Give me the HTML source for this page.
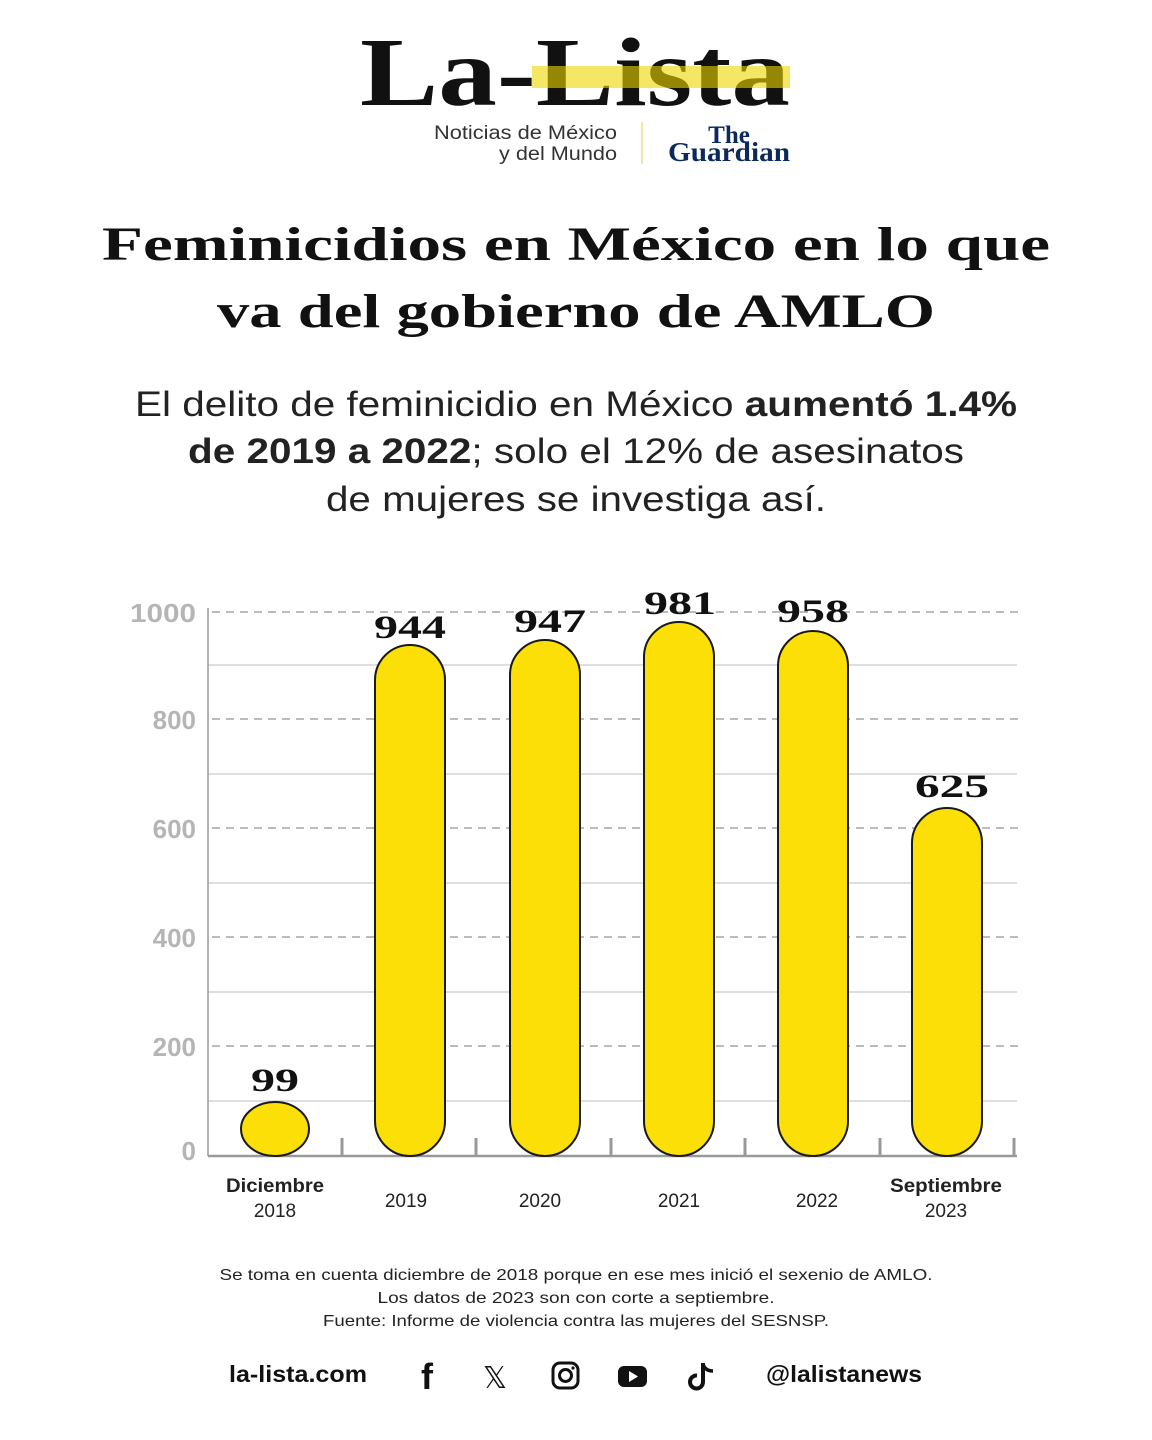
<!DOCTYPE html>
<html><head><meta charset="utf-8"><style>
html,body{margin:0;padding:0;background:#fff;}
svg{display:block;}
</style></head><body>
<svg width="1152" height="1440" viewBox="0 0 1152 1440" xmlns="http://www.w3.org/2000/svg">
<rect width="1152" height="1440" fill="#fff"/>
<!-- Logo -->
<text x="360" y="105" font-family="Liberation Serif,serif" font-weight="bold" font-size="98" fill="#111" textLength="430" lengthAdjust="spacingAndGlyphs">La-Lista</text>
<rect x="532" y="66" width="258" height="22" fill="#efd700" opacity="0.6"/>
<text x="617" y="139" text-anchor="end" font-family="Liberation Sans,sans-serif" font-size="19" fill="#333" textLength="183" lengthAdjust="spacingAndGlyphs">Noticias de México</text>
<text x="617" y="160" text-anchor="end" font-family="Liberation Sans,sans-serif" font-size="19" fill="#333" textLength="118" lengthAdjust="spacingAndGlyphs">y del Mundo</text>
<line x1="642" y1="122" x2="642" y2="164" stroke="#f0e6a0" stroke-width="2"/>
<text x="729" y="143" text-anchor="middle" font-family="Liberation Serif,serif" font-weight="bold" font-size="25" fill="#0b2a5b">The</text>
<text x="729" y="161" text-anchor="middle" font-family="Liberation Serif,serif" font-weight="bold" font-size="27" fill="#0b2a5b" textLength="122" lengthAdjust="spacingAndGlyphs">Guardian</text>
<!-- Title -->
<text x="576" y="260" text-anchor="middle" font-family="Liberation Serif,serif" font-weight="bold" font-size="48" fill="#111" textLength="948" lengthAdjust="spacingAndGlyphs">Feminicidios en México en lo que</text>
<text x="576" y="327" text-anchor="middle" font-family="Liberation Serif,serif" font-weight="bold" font-size="48" fill="#111" textLength="718" lengthAdjust="spacingAndGlyphs">va del gobierno de AMLO</text>
<!-- Subtitle -->
<g font-family="Liberation Sans,sans-serif" font-size="35" fill="#222" text-anchor="middle">
<text x="576" y="416" textLength="882" lengthAdjust="spacingAndGlyphs">El delito de feminicidio en México <tspan font-weight="bold">aumentó 1.4%</tspan></text>
<text x="576" y="463" textLength="776" lengthAdjust="spacingAndGlyphs"><tspan font-weight="bold">de 2019 a 2022</tspan>; solo el 12% de asesinatos</text>
<text x="576" y="511" textLength="500" lengthAdjust="spacingAndGlyphs">de mujeres se investiga así.</text>
</g>
<!-- Grid -->
<g stroke="#bbb" stroke-width="2" stroke-dasharray="8,6">
<line x1="212" y1="612" x2="1020" y2="612"/>
<line x1="212" y1="719" x2="1020" y2="719"/>
<line x1="212" y1="828" x2="1020" y2="828"/>
<line x1="212" y1="937" x2="1020" y2="937"/>
<line x1="212" y1="1046" x2="1020" y2="1046"/>
</g>
<g stroke="#c9c9c9" stroke-width="1.2">
<line x1="208" y1="665" x2="1017" y2="665"/>
<line x1="208" y1="774" x2="1017" y2="774"/>
<line x1="208" y1="883" x2="1017" y2="883"/>
<line x1="208" y1="992" x2="1017" y2="992"/>
<line x1="208" y1="1101" x2="1017" y2="1101"/>
</g>
<line x1="208" y1="608" x2="208" y2="1156" stroke="#999" stroke-width="1.5"/>
<line x1="208" y1="1156" x2="1017" y2="1156" stroke="#999" stroke-width="2.5"/>
<g stroke="#999" stroke-width="3">
<line x1="342" y1="1138" x2="342" y2="1156"/>
<line x1="476" y1="1138" x2="476" y2="1156"/>
<line x1="611" y1="1138" x2="611" y2="1156"/>
<line x1="745" y1="1138" x2="745" y2="1156"/>
<line x1="880" y1="1138" x2="880" y2="1156"/>
<line x1="1014" y1="1138" x2="1014" y2="1156"/>
</g>
<g font-family="Liberation Sans,sans-serif" font-size="26" font-weight="bold" fill="#b5b5b5" text-anchor="end">
<text x="196" y="622" textLength="66" lengthAdjust="spacingAndGlyphs">1000</text>
<text x="196" y="729">800</text>
<text x="196" y="838">600</text>
<text x="196" y="947">400</text>
<text x="196" y="1056">200</text>
<text x="196" y="1160">0</text>
</g>
<!-- Bars -->
<g fill="#fbdf06" stroke="#1a1a1a" stroke-width="2">
<ellipse cx="275" cy="1129" rx="34" ry="27"/>
<rect x="375" y="645" width="70" height="511" rx="35"/>
<rect x="510" y="640" width="70" height="516" rx="35"/>
<rect x="644" y="622" width="70" height="534" rx="35"/>
<rect x="778" y="631" width="70" height="525" rx="35"/>
<rect x="912" y="808" width="70" height="348" rx="35"/>
</g>
<g font-family="Liberation Serif,serif" font-weight="bold" font-size="33" fill="#111" text-anchor="middle">
<text x="275" y="1091" textLength="48" lengthAdjust="spacingAndGlyphs">99</text>
<text x="410" y="638" textLength="72" lengthAdjust="spacingAndGlyphs">944</text>
<text x="550" y="632" textLength="72" lengthAdjust="spacingAndGlyphs">947</text>
<text x="680" y="614" textLength="72" lengthAdjust="spacingAndGlyphs">981</text>
<text x="813" y="622" textLength="72" lengthAdjust="spacingAndGlyphs">958</text>
<text x="952" y="797" textLength="74" lengthAdjust="spacingAndGlyphs">625</text>
</g>
<g font-family="Liberation Sans,sans-serif" font-size="19" fill="#222" text-anchor="middle">
<text x="275" y="1192" font-weight="bold" textLength="98" lengthAdjust="spacingAndGlyphs">Diciembre</text>
<text x="275" y="1217">2018</text>
<text x="406" y="1207">2019</text>
<text x="540" y="1207">2020</text>
<text x="679" y="1207">2021</text>
<text x="817" y="1207">2022</text>
<text x="946" y="1192" font-weight="bold" textLength="112" lengthAdjust="spacingAndGlyphs">Septiembre</text>
<text x="946" y="1217">2023</text>
</g>
<!-- Notes -->
<g font-family="Liberation Sans,sans-serif" font-size="16" fill="#222" text-anchor="middle">
<text x="576" y="1280" textLength="713" lengthAdjust="spacingAndGlyphs">Se toma en cuenta diciembre de 2018 porque en ese mes inició el sexenio de AMLO.</text>
<text x="576" y="1303" textLength="397" lengthAdjust="spacingAndGlyphs">Los datos de 2023 son con corte a septiembre.</text>
<text x="576" y="1326" textLength="506" lengthAdjust="spacingAndGlyphs">Fuente: Informe de violencia contra las mujeres del SESNSP.</text>
</g>
<!-- Footer -->
<g font-family="Liberation Sans,sans-serif" font-size="23" font-weight="bold" fill="#111">
<text x="229" y="1382" textLength="138" lengthAdjust="spacingAndGlyphs">la-lista.com</text>
<text x="766" y="1382" textLength="156" lengthAdjust="spacingAndGlyphs">@lalistanews</text>
</g>
<text x="427" y="1389" text-anchor="middle" font-family="Liberation Sans,sans-serif" font-weight="bold" font-size="36" fill="#111">f</text>
<text x="495" y="1388" text-anchor="middle" font-family="DejaVu Sans,sans-serif" font-size="30" fill="#111">𝕏</text>
<rect x="553" y="1363" width="25" height="25" rx="7" fill="none" stroke="#111" stroke-width="3"/>
<circle cx="565.5" cy="1375.5" r="6" fill="none" stroke="#111" stroke-width="3"/>
<circle cx="573" cy="1368" r="1.6" fill="#111"/>
<rect x="618" y="1366" width="29" height="21" rx="6" fill="#111"/>
<path d="M629 1371 L638 1376.5 L629 1382 Z" fill="#fff"/>
<path d="M703 1363 L703 1382 A6.5 6.5 0 1 1 697 1375.5" fill="none" stroke="#111" stroke-width="4"/>
<path d="M703 1364 Q705 1371 713 1371" fill="none" stroke="#111" stroke-width="3.5"/>
</svg>
</body></html>
